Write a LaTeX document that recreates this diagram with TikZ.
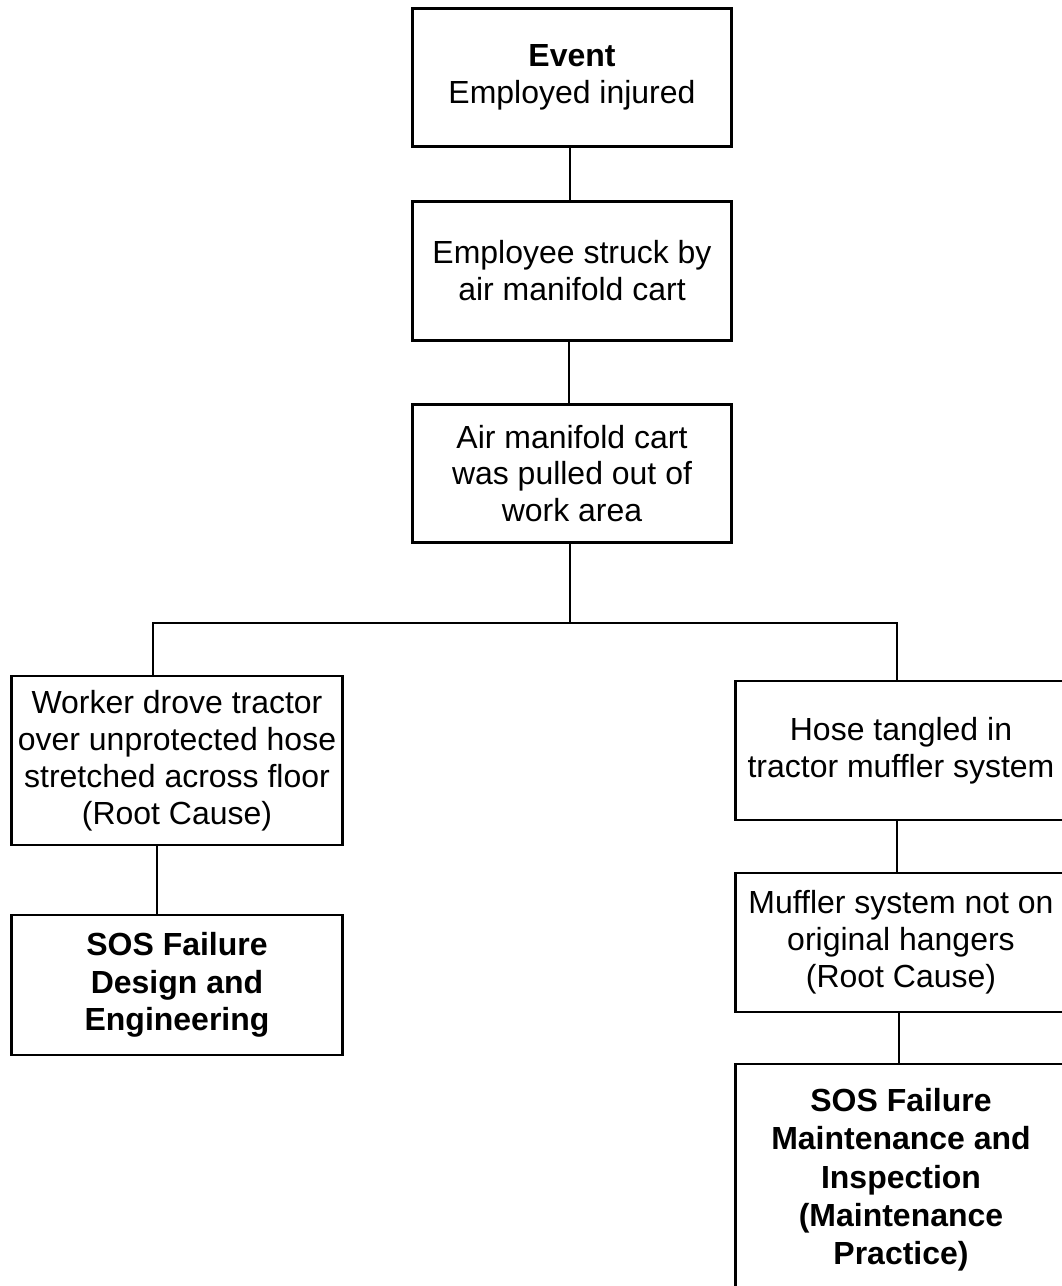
\documentclass[tikz,border=0pt]{standalone}
\usepackage{fontspec}
\setmainfont{Liberation Sans}
\usepackage{tikz}
\usetikzlibrary{calc}
\tikzstyle{box}  = [draw=black, line width=1.6pt, align=center, inner sep=0pt, font=\fontsize{18.2}{21}\selectfont]
\tikzstyle{mid}  = [box, minimum width=6.38cm, minimum height=2.77cm]
\tikzstyle{side} = [box, minimum width=6.62cm]
\tikzstyle{line} = [line width=1.6pt]

\begin{document}
\begin{tikzpicture}[x=0.02cm,y=-0.02cm]
		\useasboundingbox (0,0) rectangle (1062,1286);
		\fill[white] (0,0) rectangle (1062,1286);
		\clip (0,0) rectangle (1062,1286);
		% main chain
		\node[mid] (ev) at (572,77.5) {\textbf{Event}\\Employed injured};
		\node[mid] (st) at (572,271) {Employee struck by\\air manifold cart};
		\node[mid] (cart) at (572,473.5) {Air manifold cart\\was pulled out of\\work area};
		% left branch
		\node[side, minimum height=3.38cm] (work) at (177,760.5) {Worker drove tractor\\over unprotected hose\\stretched across floor\\(Root Cause)};
		\node[side, minimum height=2.8cm, font=\fontsize{18.2}{21.5}\selectfont\bfseries] (sosd) at (177,985) {SOS Failure\\Design and\\Engineering};
		% right branch
		\node[side, minimum height=2.78cm] (hose) at (901,750.5) {Hose tangled in\\tractor muffler system};
		\node[side, minimum height=2.78cm] (muff) at (901,942.5) {Muffler system not on\\original hangers\\(Root Cause)};
		\node[side, minimum height=4.64cm, font=\fontsize{18.2}{21.8}\selectfont\bfseries] (sosm) at (901,1180) {SOS Failure\\Maintenance and\\Inspection\\(Maintenance\\Practice)};
		\coordinate (split) at (570,623);
		\draw[line] ($(ev.south)+(-2,0)$) -- ($(st.north)+(-2,0)$);
		\draw[line] ($(st.south)+(-3,0)$) -- ($(cart.north)+(-3,0)$);
		\draw[line] ($(cart.south)+(-2,0)$) -- (split);
		\draw[line] (split) -| ($(work.north)+(-24,0)$);
		\draw[line] (split) -| ($(hose.north)+(-4,0)$);
		\draw[line] ($(work.south)+(-20,0)$) -- ($(sosd.north)+(-20,0)$);
		\draw[line] ($(hose.south)+(-4,0)$) -- ($(muff.north)+(-4,0)$);
		\draw[line] ($(muff.south)+(-2,0)$) -- ($(sosm.north)+(-2,0)$);
	\end{tikzpicture}
\end{document}
